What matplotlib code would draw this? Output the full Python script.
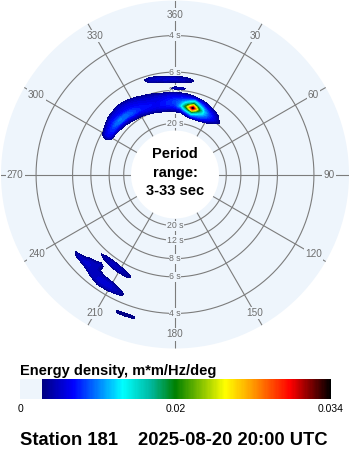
import numpy as np
import matplotlib
matplotlib.use("Agg")
import matplotlib.pyplot as plt
from matplotlib.colors import LinearSegmentedColormap, Normalize
from matplotlib.cm import ScalarMappable

plt.rcParams["font.family"] = ["Liberation Sans", "DejaVu Sans"]

W, H = 350, 450
station = "Station 181"
stamp = "2025-08-20 20:00 UTC"
period_lines = ["Period", "range:", "3-33 sec"]
cbar_title = "Energy density, m*m/Hz/deg"

ring_periods = [4, 6, 8, 12, 20]
dir_ticks = list(range(0, 360, 30))
dir_labels = ["360", "30", "60", "90", "120", "150",
              "180", "210", "240", "270", "300", "330"]
cbar_ticks = [0, 0.017, 0.034]
cbar_labels = ["0", "0.02", "0.034"]

e_max = 0.034
e_floor = 0.0023          # below this nothing is painted
f_hole = 0.0334           # inner white disc
f_edge = 0.33
r_origin = -0.067

# spectrum columns: (direction deg, first frequency Hz, energy upward in 0.005 Hz steps)
# energy in 1e-3 m*m/Hz/deg
swell_main = [
    (300, 0.095, [0, 3.5, 5, 5.5, 5, 3.5, 1.5]),
    (305, 0.090, [0, 1.5, 4.5, 6.5, 6.5, 6, 5, 3.5, 1.5]),
    (310, 0.090, [0, 3, 5, 7, 8, 7, 6, 5, 3.5, 1.8]),
    (315, 0.090, [1.5, 3.5, 5.5, 8, 8.5, 7, 6, 5, 4.5, 2.5, 0]),
    (320, 0.085, [0, 2.5, 4, 6, 8, 8, 6.5, 5.5, 5, 4.5, 3.5, 1]),
    (325, 0.085, [1.5, 3.5, 5, 7, 7.5, 7, 6, 5.5, 5, 4, 3, 0]),
    (330, 0.080, [0, 2, 3.5, 5, 6.5, 6.5, 6, 5.5, 5, 4.5, 3.5, 1.5]),
    (335, 0.080, [0, 3, 4.5, 5.5, 6, 6, 5.5, 5, 4.5, 3.5, 2, 0]),
    (340, 0.080, [1.5, 3.5, 5, 5.5, 6, 5.5, 5, 4.5, 4, 3, 0]),
    (345, 0.075, [0, 2.5, 4, 5, 5.5, 5.5, 5, 5, 4.5, 3.5, 1.8]),
    (350, 0.075, [1, 3, 4.5, 5.5, 6, 6, 5.5, 5, 4.5, 3, 0]),
    (355, 0.075, [1, 3, 5, 6, 6.5, 6.5, 6, 5.5, 4.5, 3, 0]),
    (0, 0.070, [0, 2, 3.5, 5.5, 6.5, 7, 7, 6.5, 5.5, 4.5, 2.8, 0]),
    (5, 0.070, [0, 2.5, 5, 7.5, 10, 9, 8, 7, 6, 4.5, 2, 0]),
    (10, 0.065, [0, 3, 6, 10, 15, 19, 15, 11, 8, 6, 4, 1.8]),
    (15, 0.060, [0, 2, 6, 10, 15, 25, 34, 25, 16, 11, 6, 3, 0]),
    (20, 0.060, [0, 1.8, 6, 8, 11, 15, 18, 14, 10, 7, 4.5, 1.5]),
    (25, 0.060, [0, 1, 4.5, 7, 8.5, 10, 10, 8.5, 6.5, 4.5, 2.5, 0]),
    (30, 0.065, [0, 2.8, 5, 6.5, 7, 7, 6, 4.5, 2.8, 0]),
    (35, 0.070, [0, 2, 4, 5, 5, 4, 2.8, 0]),
    (40, 0.080, [1, 2.6, 2.6, 1]),
]
swell_north = [
    (340, 0.155, [0.5, 1.5, 0.5]),
    (345, 0.145, [0, 2.5, 4, 3.5, 0.5]),
    (350, 0.145, [1.5, 4, 4.5, 2.5, 0]),
    (355, 0.140, [0.5, 3, 4.5, 4, 1]),
    (0, 0.140, [0.5, 3, 4.5, 3.5, 0.5]),
    (5, 0.140, [0, 3, 4, 3, 0]),
    (10, 0.145, [2, 3, 2]),
]
swell_north_bit = [
    (0, 0.130, [4, 1]),
    (5, 0.130, [4, 1]),
]
sea_sw = [
    (205, 0.225, [2.5, 3.5, 3, 0]),
    (210, 0.210, [0, 1.5, 3.5, 4.5, 4.5, 4, 2, 0]),
    (215, 0.210, [0, 2.5, 4, 4.5, 4.5, 4, 2.5, 0]),
    (220, 0.190, [0, 2, 4, 4, 4, 4, 4, 4, 4, 2, 0]),
    (225, 0.200, [0, 2.5, 4, 4.5, 4.5, 3.5, 0.5]),
    (230, 0.210, [0, 2, 4, 3, 0]),
]
sea_sw_inner = [
    (200, 0.185, [0.5, 1, 0.5]),
    (205, 0.180, [1.5, 3, 3, 1]),
    (210, 0.175, [1, 3.5, 4, 3, 0.5]),
    (215, 0.175, [2.5, 4, 4, 2, 0]),
    (220, 0.175, [2, 3.5, 2.5, 0]),
    (225, 0.175, [0.5, 1.5, 0.5]),
]
sea_sw_outer = [
    (195, 0.270, [2.2, 2.2]),
    (200, 0.270, [2.8, 2.8]),
    (205, 0.270, [2.0, 2.0]),
]

disk = "#eef5fc"
grid_c = "#7c7c7c"
label_c = "#6e6e6e"

cmap = LinearSegmentedColormap.from_list("energy", [
    (0.0, disk), (e_floor / e_max, disk), (e_floor / e_max + 0.002, "#000080"),
    (0.17, "#0000ff"), (0.33, "#00ffff"), (0.42, "#00b8a0"), (0.50, "#008000"),
    (0.66, "#ffff00"), (0.75, "#ff9900"), (0.87, "#ff0000"), (1.0, "#000000"),
], N=256)
norm = Normalize(0, e_max)

# put the columns onto a regular direction / frequency grid
dirs = np.arange(0, 365, 5)
freqs = np.round(np.arange(0.030, 0.3325, 0.005), 3)
energy = np.zeros((freqs.size, dirs.size))
for comp in (swell_main, swell_north, swell_north_bit, sea_sw, sea_sw_inner, sea_sw_outer):
    for d, f0, vals in comp:
        j = (d % 360) // 5
        i = int(round((f0 - freqs[0]) / 0.005))
        energy[i:i + len(vals), j] = vals
energy[:, -1] = energy[:, 0]
energy *= 1e-3

fig = plt.figure(figsize=(W / 100, H / 100), dpi=100)
cx, cy, R = 175, 174.5, 174
ax = fig.add_axes([(cx - R) / W, (H - cy - R) / H, 2 * R / W, 2 * R / H],
                  projection="polar")
ax.set_theta_zero_location("N")
ax.set_theta_direction(-1)
ax.set_rorigin(r_origin)
ax.set_ylim(f_hole, f_edge)
ax.set_facecolor(disk)
# polar draw() switches the inner spine back on, so blank it instead
for s in ax.spines.values():
    s.set_edgecolor("none")
    s.set_linewidth(0)
ax.set_xticks([])
ax.set_yticks([])
ax.grid(False)

# period rings and direction spokes
th = np.linspace(0, 2 * np.pi, 721)
for T in ring_periods:
    ax.plot(th, np.full_like(th, 1 / T), color=grid_c, lw=0.8, zorder=1)
for d in dir_ticks:
    a = np.deg2rad(d)
    ax.plot([a, a], [f_hole, f_edge], color=grid_c, lw=0.8, zorder=1)

for d, lab in zip(dir_ticks, dir_labels):
    fr = 0.2844 if d == 90 else 0.298
    ax.text(np.deg2rad(d), fr, lab, ha="center", va="center", fontsize=7.2,
            color=label_c, zorder=2,
            bbox=dict(fc=disk, ec="none", pad=0.8))
for T in ring_periods:
    for d in (0, 180):
        ax.text(np.deg2rad(d), 1 / T, f"{T} s", ha="center", va="center",
                fontsize=6.3, color=label_c, zorder=2,
                bbox=dict(fc=disk, ec="none", pad=0.4))

levels = np.linspace(e_floor, e_max + 1e-6, 64)
ax.contourf(np.deg2rad(dirs), freqs, energy, levels=levels, cmap=cmap,
            norm=norm, zorder=3, antialiased=False)


def at(x, y):
    return x / W, 1 - y / H


for s, y in zip(period_lines, [158, 176.5, 195]):
    fig.text(*at(cx, y), s, ha="center", va="baseline", fontsize=10.5,
             fontweight="bold")

fig.text(*at(20, 374.5), cbar_title, ha="left", va="baseline", fontsize=10.5,
         fontweight="bold")

cax = fig.add_axes([20 / W, (H - 399) / H, 311 / W, 20 / H])
cb = fig.colorbar(ScalarMappable(norm=norm, cmap=cmap), cax=cax,
                  orientation="horizontal")
cb.outline.set_visible(False)
cb.set_ticks(cbar_ticks)
cb.set_ticklabels(cbar_labels)
cax.tick_params(length=0, pad=3.5, labelsize=7.5)

fig.text(*at(20, 445), station, ha="left", va="baseline", fontsize=13.2,
         fontweight="bold")
fig.text(*at(138.3, 445), stamp, ha="left", va="baseline", fontsize=13.2,
         fontweight="bold")

fig.savefig("out.png", dpi=100, facecolor="white")
